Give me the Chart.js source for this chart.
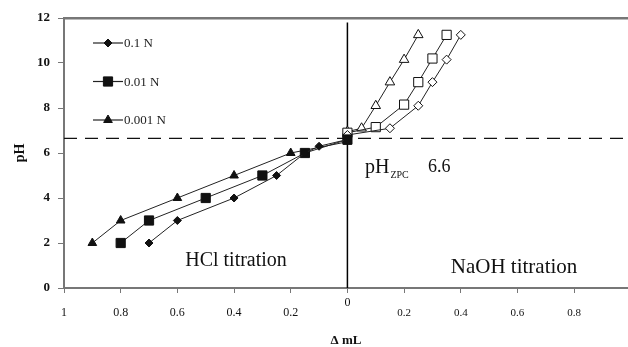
<!DOCTYPE html>
<html>
<head>
<meta charset="utf-8">
<script src="https://cdn.jsdelivr.net/npm/chart.js@4.4.1/dist/chart.umd.min.js"></script>
<style>
  html, body { margin: 0; padding: 0; background: #fff; }
  #wrap { width: 628px; height: 347px; }
</style>
</head>
<body>
<div id="wrap"><canvas id="PzcChart"></canvas></div>
<script>
// HCl titration (volume in mL, drawn to the left of zero)
const hclVol01 = [0.7, 0.6, 0.4, 0.25, 0.15, 0.1, 0];
const hclPH01 = [2, 3, 4, 5, 6, 6.3, 6.6];
const hclVol001 = [0.8, 0.7, 0.5, 0.3, 0.15, 0];
const hclPH001 = [2, 3, 4, 5, 6, 6.6];
const hclVol0001 = [0.9, 0.8, 0.6, 0.4, 0.2, 0];
const hclPH0001 = [2, 3, 4, 5, 6, 6.5];

// NaOH titration (volume in mL, drawn to the right of zero)
const naohVol01 = [0, 0.15, 0.25, 0.3, 0.35, 0.4];
const naohPH01 = [6.8, 7.1, 8.1, 9.15, 10.15, 11.25];
const naohVol001 = [0, 0.1, 0.2, 0.25, 0.3, 0.35];
const naohPH001 = [6.9, 7.15, 8.15, 9.15, 10.2, 11.25];
const naohVol0001 = [0, 0.05, 0.1, 0.15, 0.2, 0.25];
const naohPH0001 = [6.95, 7.1, 8.1, 9.15, 10.15, 11.25];

const seriesNames = ['0.1 N', '0.01 N', '0.001 N'];
const pHzpc = 6.65;
const xTickValues = [-1, -0.8, -0.6, -0.4, -0.2, 0, 0.2, 0.4, 0.6, 0.8];
const xTickLabels = ['1', '0.8', '0.6', '0.4', '0.2', '0', '0.2', '0.4', '0.6', '0.8'];
const X_MIN = -1, X_MAX = 0.99;

const SERIF = "'Liberation Serif', 'DejaVu Serif', serif";

function toPoints(vols, phs, sign) {
  return vols.map((v, i) => ({ x: sign * v, y: phs[i] }));
}

function series(label, data, style, radius, filled) {
  return {
    label: label,
    data: data,
    xAxisID: 'x',
    borderColor: '#222',
    borderWidth: 1,
    pointStyle: style,
    pointRadius: radius,
    pointBorderWidth: 1,
    pointBorderColor: '#111',
    pointBackgroundColor: filled ? '#111' : '#fff',
    tension: 0,
  };
}

const datasets = [
  series(seriesNames[0], toPoints(hclVol01, hclPH01, -1), 'rectRot', 4, true),
  series(seriesNames[1], toPoints(hclVol001, hclPH001, -1), 'rect', 6.5, true),
  series(seriesNames[2], toPoints(hclVol0001, hclPH0001, -1), 'triangle', 5, true),
  series('naoh01', toPoints(naohVol01, naohPH01, 1), 'rectRot', 4.5, false),
  series('naoh001', toPoints(naohVol001, naohPH001, 1), 'rect', 6.5, false),
  series('naoh0001', toPoints(naohVol0001, naohPH0001, 1), 'triangle', 5.5, false),
  {
    label: 'zpc',
    data: [{ x: X_MIN, y: pHzpc }, { x: X_MAX, y: pHzpc }],
    xAxisID: 'x',
    borderColor: '#111',
    borderWidth: 1.3,
    borderDash: [13, 8],
    pointRadius: 0,
  },
  {
    label: 'zero',
    data: [{ x: 0, y: 0 }, { x: 0, y: 11.8 }],
    xAxisID: 'x',
    borderColor: '#000',
    borderWidth: 1.5,
    pointRadius: 0,
  },
];

// legend drawn inside the plot: line + marker + label
const insideLegend = {
  id: 'insideLegend',
  afterDatasetsDraw(chart) {
    const { ctx, chartArea } = chart;
    ctx.save();
    seriesNames.forEach((name, i) => {
      const ds = chart.data.datasets[i];
      const x0 = chartArea.left + 29;
      const y = chartArea.top + 25 + i * 38.5;
      ctx.strokeStyle = ds.borderColor;
      ctx.lineWidth = 1.2;
      ctx.beginPath();
      ctx.moveTo(x0, y);
      ctx.lineTo(x0 + 30, y);
      ctx.stroke();
      ctx.fillStyle = ds.pointBackgroundColor;
      ctx.strokeStyle = ds.pointBorderColor;
      ctx.lineWidth = 1;
      Chart.helpers.drawPoint(ctx, { pointStyle: ds.pointStyle, radius: ds.pointRadius, rotation: 0, borderWidth: 1 }, x0 + 15, y);
      ctx.fillStyle = '#222';
      ctx.font = '13px ' + SERIF;
      ctx.textAlign = 'left';
      ctx.textBaseline = 'middle';
      ctx.fillText(name, x0 + 31, y + 1);
    });
    ctx.restore();
  }
};

// text notes placed in data coordinates
const notes = [
  { text: 'HCl titration', x: -0.393, y: 1.2, size: 20 },
  { text: 'NaOH titration', x: 0.588, y: 0.93, size: 21 },
];

const notesPlugin = {
  id: 'notes',
  afterDatasetsDraw(chart) {
    const { ctx } = chart;
    const xs = chart.scales.x, ys = chart.scales.y;
    ctx.save();
    ctx.fillStyle = '#111';
    ctx.textBaseline = 'middle';
    ctx.textAlign = 'center';
    notes.forEach(n => {
      ctx.font = n.size + 'px ' + SERIF;
      ctx.fillText(n.text, xs.getPixelForValue(n.x), ys.getPixelForValue(n.y));
    });
    // pH_ZPC label
    const px = xs.getPixelForValue(0.062);
    const py = ys.getPixelForValue(5.1);
    ctx.textAlign = 'left';
    ctx.textBaseline = 'alphabetic';
    ctx.font = '20px ' + SERIF;
    ctx.fillText('pH', px, py);
    const w = ctx.measureText('pH').width;
    ctx.font = '10px ' + SERIF;
    ctx.fillText('ZPC', px + w + 1, py + 5);
    ctx.font = '18px ' + SERIF;
    ctx.fillText(String(6.6), xs.getPixelForValue(0.284), py - 1);
    ctx.restore();
  }
};

const chartConfig = {
  type: 'line',
  data: { datasets: datasets },
  options: {
    responsive: true,
    maintainAspectRatio: false,
    animation: false,
    events: [],
    layout: { autoPadding: false, padding: { top: 18, left: 0, right: 0, bottom: 0 } },
    plugins: {
      legend: { display: false },
      tooltip: { enabled: false },
    },
    scales: {
      x: {
        type: 'linear',
        position: 'bottom',
        min: X_MIN,
        max: X_MAX,
        afterBuildTicks: (scale) => {
          scale.ticks = xTickValues.map(v => ({ value: v }));
        },
        afterFit: (scale) => {
          scale.height = 59;
          scale.paddingLeft = 0;
          scale.paddingRight = 0;
        },
        grid: { drawOnChartArea: false, drawTicks: true, tickLength: 5, color: '#777', lineWidth: 1 },
        border: { display: true, color: '#777', width: 2 },
        ticks: {
          color: '#111',
          padding: 5,
          maxRotation: 0,
          autoSkip: false,
          font: (c) => ({
            family: SERIF,
            size: (c.tick && c.tick.value > 0.01) ? 11 : 12,
            lineHeight: '10px',
          }),
          callback: (value) => {
            const i = xTickValues.findIndex(v => Math.abs(v - value) < 1e-6);
            const label = xTickLabels[i];
            // "0" sits one line higher than the other labels
            return Math.abs(value) < 1e-6 ? label : ['', label];
          },
        },
        title: {
          display: true,
          text: 'Δ mL',
          color: '#111',
          font: { family: SERIF, size: 13, weight: 'bold', lineHeight: 1 },
          padding: { top: 0, bottom: 0 },
        },
      },
      xTop: {
        type: 'linear',
        position: 'top',
        min: X_MIN,
        max: X_MAX,
        afterFit: (scale) => {
          scale.height = 0;
          scale.paddingLeft = 0;
          scale.paddingRight = 0;
        },
        grid: { display: false, drawTicks: false },
        border: { display: true, color: '#777', width: 2.5 },
        ticks: { display: false },
      },
      y: {
        type: 'linear',
        min: 0,
        max: 12,
        afterFit: (scale) => {
          scale.width = 64;
          scale.paddingTop = 0;
          scale.paddingBottom = 0;
        },
        grid: { drawOnChartArea: false, drawTicks: true, tickLength: 6, color: '#777', lineWidth: 1 },
        border: { display: true, color: '#777', width: 2 },
        ticks: {
          stepSize: 2,
          color: '#111',
          padding: 8,
          font: { family: SERIF, size: 13, weight: 'bold' },
        },
        title: {
          display: true,
          text: 'pH',
          color: '#111',
          font: { family: SERIF, size: 14, weight: 'bold' },
          padding: { top: 12, bottom: 0 },
        },
      },
    },
  },
  plugins: [insideLegend, notesPlugin],
};

const ctx = document.getElementById('PzcChart').getContext('2d');
const chartRef = new Chart(ctx, chartConfig);
</script>
</body>
</html>
